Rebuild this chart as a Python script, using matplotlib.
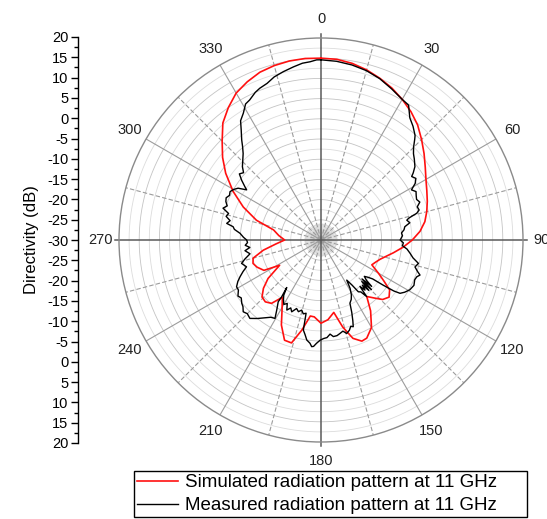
import numpy as np
import matplotlib.pyplot as plt
from matplotlib.ticker import FuncFormatter, MultipleLocator

plt.rcParams['font.family'] = ['Liberation Sans', 'DejaVu Sans']

# simulated pattern (deg, dB)
sim_deg = [0, 5, 10, 15, 20, 25, 30, 35, 40, 45, 50, 55, 60, 65, 70, 75, 80, 85, 90,
           95, 100, 105, 108, 112, 116, 120, 123, 126, 130, 134, 137, 141, 145, 150,
           155, 158, 162, 166, 170, 175, 180, 185, 188, 192, 196, 200, 205, 209, 214,
           218, 222, 226, 230, 234, 238.6, 242, 247, 251, 255, 260, 265, 270, 276, 282,
           287, 293, 299, 305, 310, 315, 320, 325, 330, 335, 340, 345, 350, 355, 360]
sim_db = [15.0, 14.9, 14.4, 13.6, 12.6, 11.5, 10.2, 8.8, 7.2, 5.2, 3.3, 1.5, 0.0, -1.1,
          -2.0, -2.9, -3.9, -5.4, -7.4, -9.6, -11.8, -13.7, -14.6, -15.4, -16.0, -13.6,
          -11.5, -9.0, -8.0, -8.8, -10.3, -12.0, -8.6, -5.0, -3.2, -3.0, -4.4, -7.8,
          -11.8, -10.2, -9.4, -10.9, -11.0, -7.2, -3.5, -3.6, -6.8, -10.1, -12.9, -10.1,
          -9.4, -9.7, -11.4, -13.8, -18.0, -14.0, -12.8, -12.2, -12.6, -15.5, -18.8,
          -21.0, -19.5, -18.0, -13.3, -9.1, -5.1, -1.2, 1.8, 4.6, 7.8, 10.0, 12.0, 13.2,
          14.2, 14.7, 15.0, 15.1, 15.0]

# measured pattern (deg, dB), one line per sector
meas_deg = [0, 5, 10, 15, 20, 25, 30, 33, 36, 39, 42, 43, 45, 47, 49, 52, 54, 55, 57, 59, 61, 63, 65, 67, 69, 71, 73, 74.4, 76, 77, 79, 81, 83, 85, 87, 90, 92, 94, 96, 98.5] + \
           [101, 103.5, 106, 108, 109.5, 111, 113, 116, 119.3, 122, 124] + \
           [125, 126, 127, 128.5, 130, 131.5, 132.5, 133.5, 134.5, 135.5, 136.5, 137.5, 138.7, 140, 141.1, 142.5, 144.2, 145.5, 147.3, 149, 151, 153, 155.4, 157, 158.5, 159.6] + \
           [161, 162.5, 164.6, 166.5, 168.5, 170.5, 172.7, 174.5, 176.5, 178.5, 180.5, 182.5, 184, 185, 186.1] + \
           [188.1, 189.5, 191.1, 191.5, 193.5, 195.4, 197.5, 199.6, 202.2, 204, 206, 208, 210, 212.1, 214, 215.8, 214.7, 214.7, 212.3, 210.4, 213, 216, 219, 222.2] + \
           [225, 227.3, 229.5, 231.4, 234, 236, 238.8, 241, 243.5, 245.6, 248, 250.2, 253.6, 256, 259, 262, 264, 266, 268] + \
           [270, 272, 274.7, 277, 278.6, 280, 282, 284, 286, 288, 290, 292, 294, 296, 298, 300, 302, 304, 305, 307, 309, 311, 313] + \
           [315, 318, 320, 321.6, 324, 326, 328.5, 331, 333, 336, 338, 341, 344, 347.4, 351, 354, 356.5, 358.6, 360]
meas_db = [14.6, 14.4, 14.0, 13.4, 12.5, 11.3, 10.2, 9.8, 7.4, 6.2, 4.8, 4.0, 2.4, 1.3, 0.6, -0.5, -1.8, -2.6, -2.0, -2.8, -4.4, -3.6, -4.0, -4.3, -3.8, -4.8, -4.6, -5.4, -7.6, -8.2, -7.6, -9.0, -9.3, -10.0, -9.8, -10.4, -9.6, -9.8, -8.6, -7.7] + \
          [-6.8, -5.2, -5.8, -4.9, -4.0, -4.6, -4.8, -4.4, -4.8, -5.6, -6.4] + \
          [-8.0, -11.0, -14.0, -15.2, -16.0, -15.0, -13.0, -16.0, -12.5, -15.6, -12.8, -14.8, -13.5, -15.0, -12.0, -13.8, -14.2, -16.5, -18.2, -16.0, -14.5, -13.5, -12.8, -10.5, -8.5, -7.1] + \
          [-7.4, -6.6, -6.0, -6.8, -6.4, -6.0, -5.9, -6.6, -5.8, -5.6, -5.2, -4.4, -3.6, -3.5, -4.3] + \
          [-5.0, -6.2, -7.3, -11.5, -11.2, -12.0, -11.4, -12.0, -10.8, -11.6, -10.7, -12.2, -11.6, -12.5, -13.5, -15.5, -12.9, -11.4, -9.5, -7.5, -7.2, -6.2, -5.0, -3.8] + \
          [-4.2, -3.8, -4.6, -4.9, -5.6, -5.2, -6.1, -6.1, -7.0, -8.0, -9.2, -10.4, -9.5, -10.6, -12.1, -11.0, -12.3, -11.2, -11.8] + \
          [-11.6, -10.8, -9.9, -8.4, -8.0, -6.3, -7.0, -5.8, -6.2, -4.5, -5.3, -4.6, -4.3, -4.8, -4.5, -5.0, -5.8, -7.8, -7.0, -5.4, -4.0, -4.6, -3.4] + \
          [-2.6, -1.2, 0.2, 1.6, 3.6, 5.6, 6.8, 8.5, 8.9, 10.0, 10.5, 11.0, 12.0, 12.7, 13.4, 14.0, 14.2, 14.6, 14.6]

ring_levels = np.arange(-27.5, 20, 2.5)
angle_labels = list(range(0, 360, 30))

fig = plt.figure(figsize=(5.47, 5.19), dpi=100)
ax = fig.add_axes([119 / 547, 77 / 519, 404 / 547, 404 / 519], projection='polar')
ax.set_theta_zero_location('N')
ax.set_theta_direction(-1)
ax.set_ylim(-30, 20)
ax.grid(False)
ax.set_xticks([])
ax.set_yticks([])
ax.spines['polar'].set_color('#8a8a8a')
ax.spines['polar'].set_linewidth(1.0)

# rings
full = np.linspace(0, 2 * np.pi, 721)
for r in ring_levels:
    major = abs((r + 30) % 5) < 1e-6
    ax.plot(full, np.full_like(full, r), color='#c4c4c4' if major else '#dcdcdc',
            lw=0.6, zorder=1)

# spokes
for a in np.arange(0, 360, 5):
    ax.plot([np.radians(a)] * 2, [-30, -26], color='#c8c8c8', lw=0.5, zorder=1)
for a in range(0, 360, 15):
    if a % 90 == 0:
        continue
    if a % 30 == 0:
        ax.plot([np.radians(a)] * 2, [-30, 20], color='#9c9c9c', lw=0.8, zorder=1)
    else:
        ax.plot([np.radians(a)] * 2, [-30, 20], color='#9c9c9c', lw=0.8,
                ls=(0, (4, 2)), zorder=1)
for a in (0, 90, 180, 270):
    ax.plot([np.radians(a)] * 2, [-30, 21], color='#5a5a5a', lw=1.1, zorder=2,
            clip_on=False)

for a in angle_labels:
    ax.text(np.radians(a), 24.6, str(a), ha='center', va='center', fontsize=10.5,
            color='#222222')

l_sim, = ax.plot(np.radians(sim_deg), sim_db, color='#ff1010', lw=1.2, zorder=4,
                 label='Simulated radiation pattern at 11 GHz')
l_meas, = ax.plot(np.radians(meas_deg), meas_db, color='black', lw=1.0, zorder=5,
                  label='Measured radiation pattern at 11 GHz')

# left scale: 20 at top, -30 at centre, 20 at bottom
lax = fig.add_axes([78 / 547, 76 / 519, 0.001, 406 / 519])
lax.set_ylim(-50, 50)
lax.patch.set_visible(False)
for s in ('top', 'right', 'bottom'):
    lax.spines[s].set_visible(False)
lax.spines['left'].set_linewidth(1.0)
lax.set_xticks([])
lax.yaxis.set_major_locator(MultipleLocator(5))
lax.yaxis.set_minor_locator(MultipleLocator(2.5))
lax.yaxis.set_major_formatter(FuncFormatter(lambda v, p: f"{abs(v) - 30:g}"))
lax.tick_params(axis='y', which='major', length=5, width=1, labelsize=10.5, pad=2)
lax.tick_params(axis='y', which='minor', length=3, width=1)
lax.set_ylabel('Directivity (dB)', fontsize=12, labelpad=6)

leg = fig.legend(handles=[l_sim, l_meas], loc='upper left',
                 bbox_to_anchor=(134 / 547, 1 / 519, 393 / 547, 47 / 519),
                 mode='expand', borderaxespad=0,
                 fontsize=13.5, handlelength=2.2, handletextpad=0.35,
                 labelspacing=0.3, borderpad=0.17, fancybox=False, framealpha=1)
leg.get_frame().set_edgecolor('black')
leg.get_frame().set_linewidth(1.0)

fig.savefig('out.png', dpi=100)
